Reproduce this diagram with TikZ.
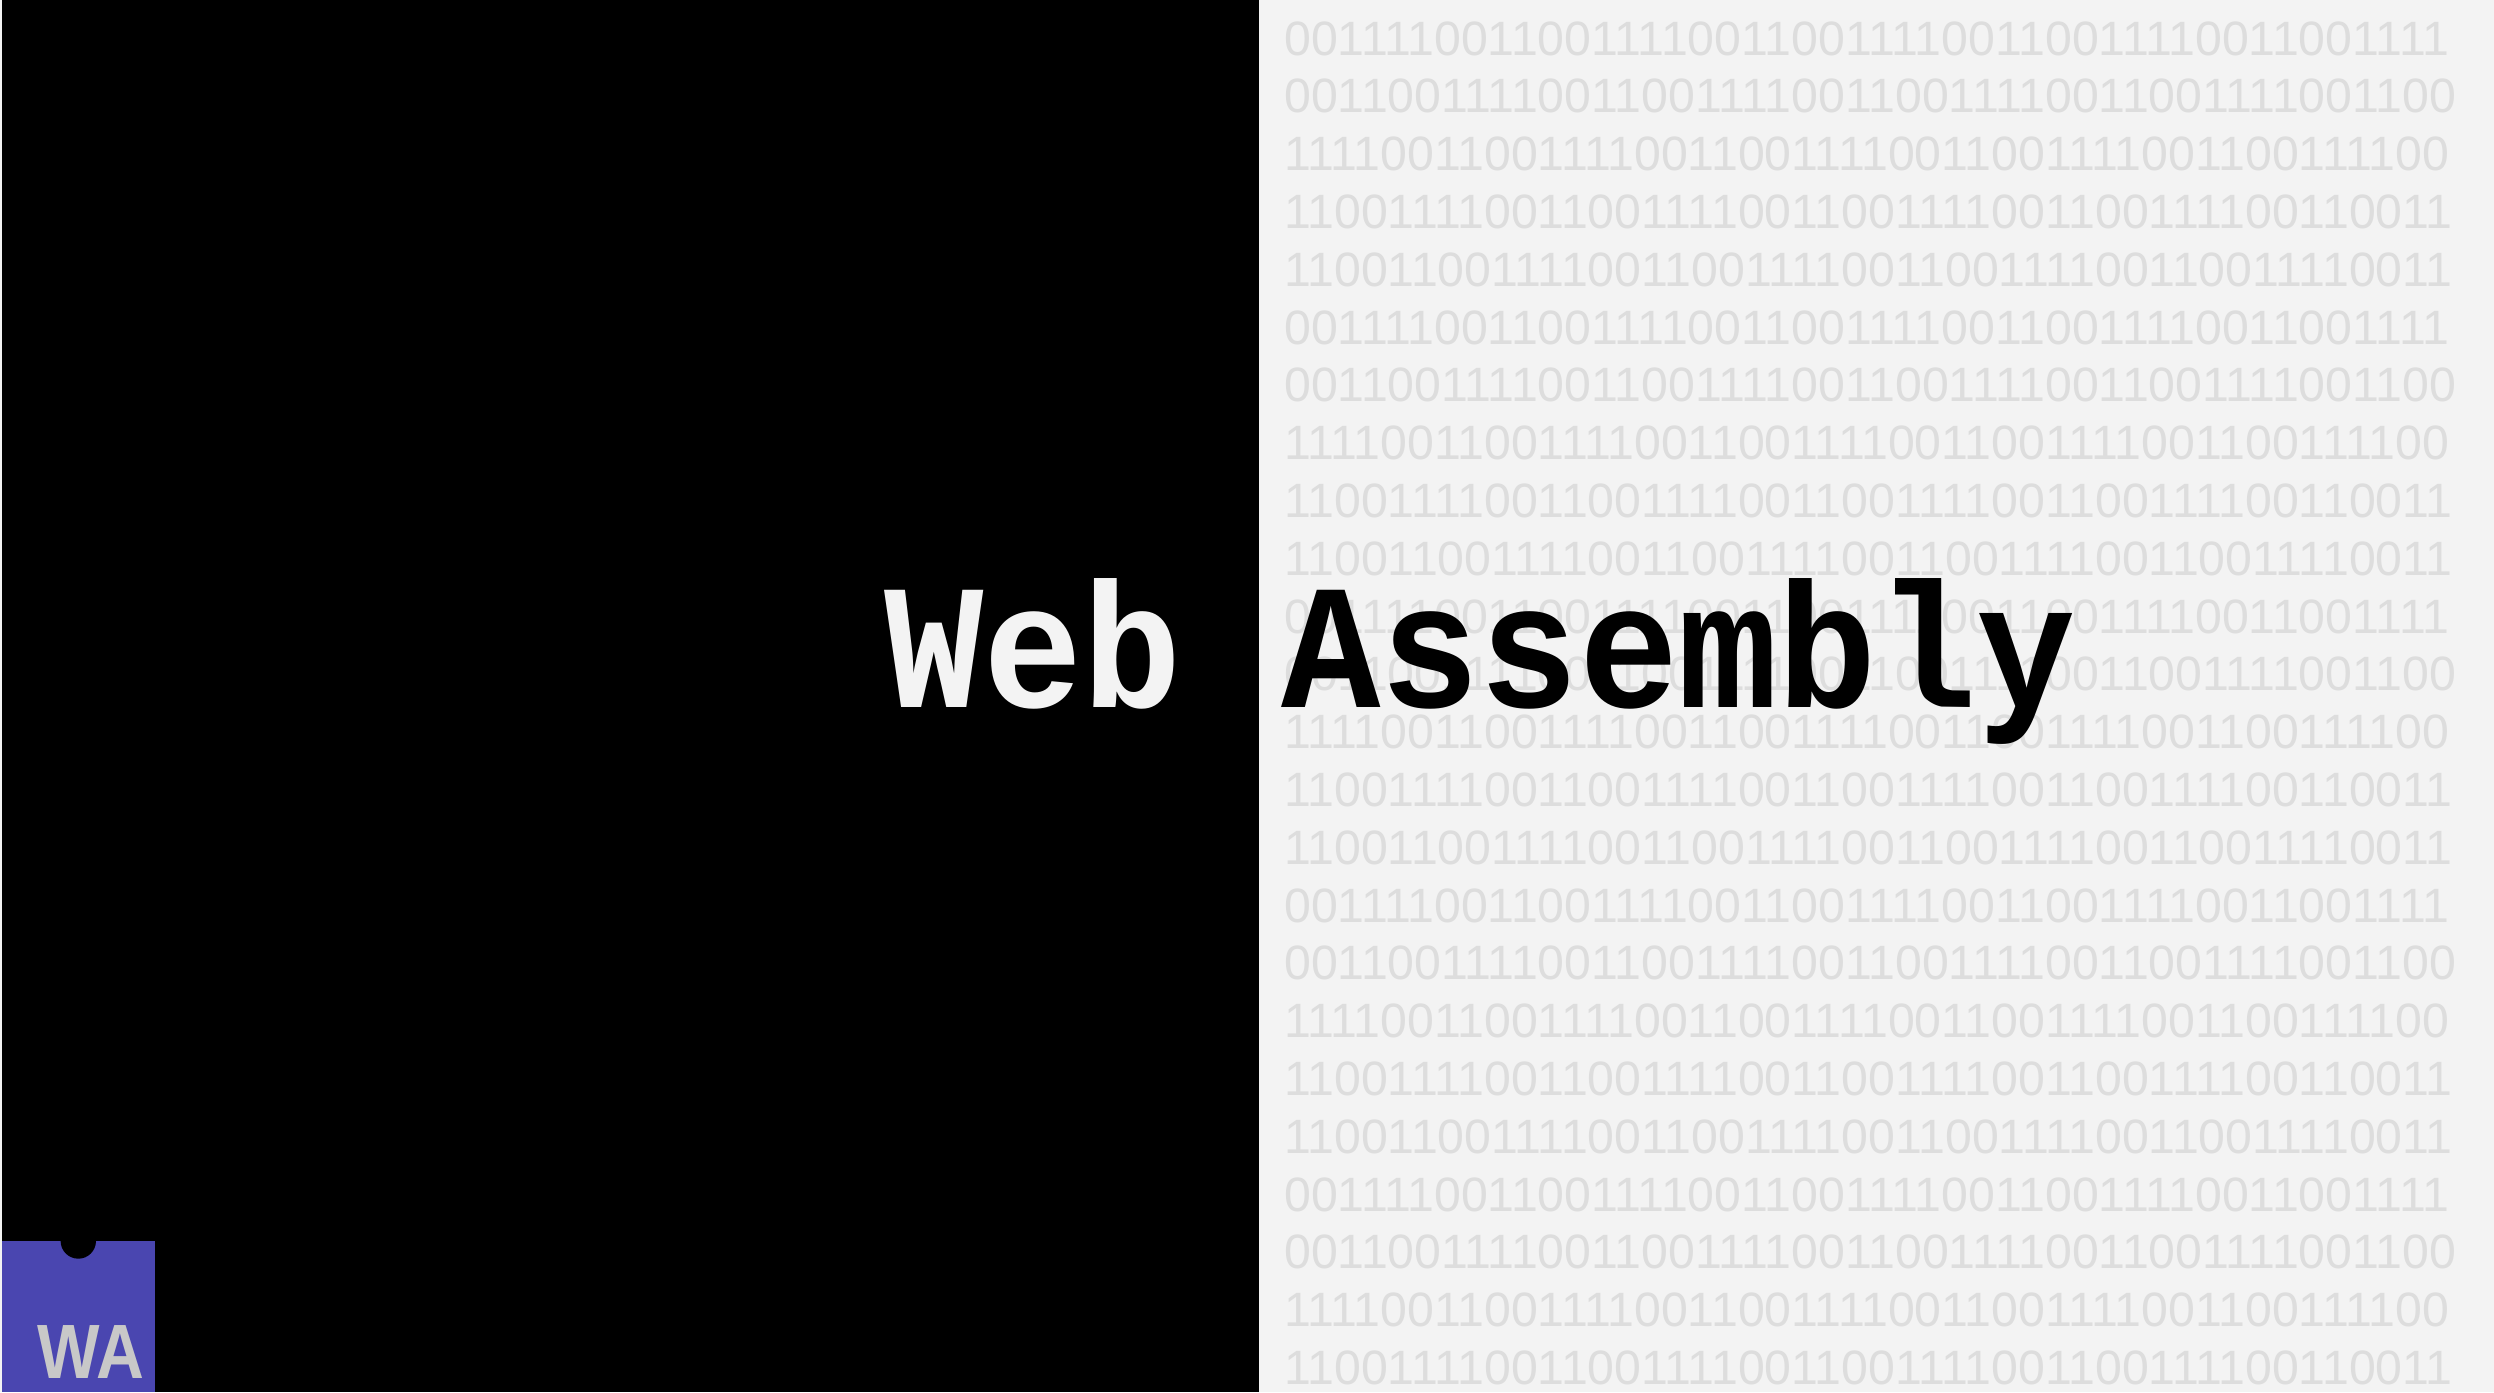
\documentclass[tikz,border=0pt]{standalone}
\usepackage{fontspec}
\usepackage{tikz}
\setmainfont{Liberation Sans}
\newfontfamily\bitsfont{Liberation Sans}
\newfontfamily\titlefont[FakeStretch=0.93]{Liberation Mono}
\newfontfamily\logofont[FakeStretch=0.86]{Liberation Sans}
\definecolor{paper}{HTML}{F3F3F3}
\definecolor{bitgray}{HTML}{DDDDDD}
\definecolor{wapurple}{HTML}{4A46B0}
\definecolor{wagray}{HTML}{C8C8C8}
\newcommand{\bitsA}{0011110011001111001100111100110011110011001111}
\newcommand{\bitsB}{0011001111001100111100110011110011001111001100}
\newcommand{\bitsC}{1111001100111100110011110011001111001100111100}
\newcommand{\bitsD}{1100111100110011110011001111001100111100110011}
\newcommand{\bitsE}{1100110011110011001111001100111100110011110011}
\tikzset{
  bitrow/.style={anchor=base west,inner sep=0,text=bitgray,font=\bitsfont\fontsize{48.2}{48.2}\selectfont},
  titleword/.style={anchor=base west,inner sep=0,font=\titlefont\bfseries\fontsize{178}{178}\selectfont},
}
\begin{document}
\begin{tikzpicture}[x=1pt,y=1pt]
\useasboundingbox (0,0) rectangle (2494,1392);
\fill[paper] (0,0) rectangle (2494,1392);
\fill[black] (2,0) rectangle (1259,1392);

\foreach \n/\bits in {0/\bitsA,1/\bitsB,2/\bitsC,3/\bitsD,4/\bitsE,5/\bitsA,6/\bitsB,7/\bitsC,
  8/\bitsD,9/\bitsE,10/\bitsA,11/\bitsB,12/\bitsC,13/\bitsD,14/\bitsE,15/\bitsA,16/\bitsB,
  17/\bitsC,18/\bitsD,19/\bitsE,20/\bitsA,21/\bitsB,22/\bitsC,23/\bitsD}
  \node[bitrow] (bits\n) at (1284,1336.8-57.8*\n) {\bits};

\node[titleword,text=paper] (web) at (884,684) {Web};
\node[titleword,text=black] (assembly) at (1281,684) {Assembly};

\fill[wapurple] (2,0) rectangle (155,151);
\fill[black] (78.3,151) circle (17.7);
\node[anchor=base west,inner sep=0,text=wagray,font=\logofont\bfseries\fontsize{77}{77}\selectfont] (walogo) at (37,14) {WA};
\end{tikzpicture}
\end{document}
